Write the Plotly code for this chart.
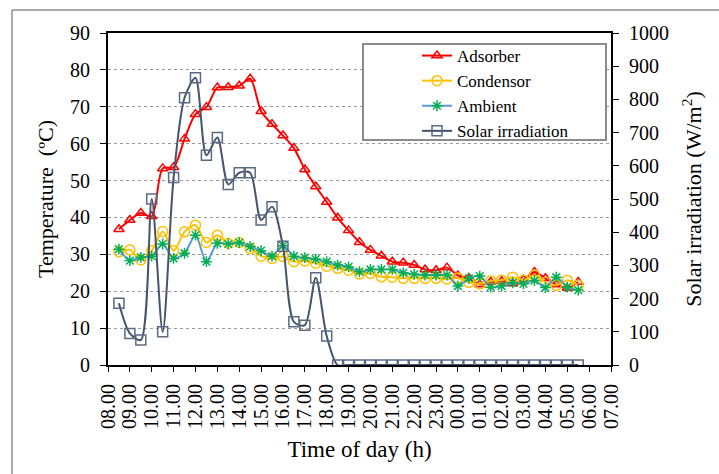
import plotly.graph_objects as go

hours = [8.5, 9.0, 9.5, 10.0, 10.5, 11.0, 11.5, 12.0, 12.5, 13.0, 13.5, 14.0, 14.5,
         15.0, 15.5, 16.0, 16.5, 17.0, 17.5, 18.0, 18.5, 19.0, 19.5, 20.0, 20.5,
         21.0, 21.5, 22.0, 22.5, 23.0, 23.5, 24.0, 24.5, 25.0, 25.5, 26.0, 26.5,
         27.0, 27.5, 28.0, 28.5, 29.0, 29.5]

adsorber = [36.8, 39.3, 41.2, 40.3, 53.3, 53.6, 61.3, 68.0, 69.9, 75.2, 75.3, 75.7, 77.6,
            68.8, 65.3, 62.2, 58.8, 53.0, 48.4, 44.2, 39.9, 36.5, 33.3, 31.2, 29.6,
            28.0, 27.7, 27.1, 25.9, 25.7, 26.4, 24.3, 23.6, 21.8, 22.5, 22.7, 22.1,
            23.1, 25.2, 23.5, 21.8, 20.9, 22.5]

condensor = [30.7, 31.2, 28.5, 31.0, 36.2, 31.0, 36.1, 37.9, 33.2, 35.2, 33.0, 33.2, 31.6,
             29.5, 28.9, 29.4, 28.0, 28.2, 27.6, 26.8, 26.2, 25.7, 24.7, 24.8, 23.9,
             23.8, 23.5, 23.5, 23.5, 23.5, 23.3, 23.6, 22.4, 22.0, 22.8, 23.0, 23.8,
             23.0, 24.4, 22.4, 21.6, 23.0, 21.6]

ambient = [31.4, 28.3, 29.2, 29.5, 32.8, 28.9, 30.3, 35.2, 28.0, 33.0, 32.8, 33.2, 32.1,
           31.0, 29.5, 32.3, 29.5, 29.1, 28.7, 28.0, 27.1, 26.6, 25.3, 25.9, 25.9,
           25.9, 25.0, 24.6, 24.4, 24.4, 24.4, 21.4, 23.5, 24.1, 21.1, 21.4, 22.3,
           22.0, 22.9, 21.0, 23.8, 21.1, 20.3]

solar = [186, 95, 75, 500, 100, 565, 805, 865, 632, 685, 544, 579, 579,
         437, 477, 358, 130, 120, 263, 87, 0, 0, 0, 0, 0,
         0, 0, 0, 0, 0, 0, 0, 0, 0, 0, 0, 0,
         0, 0, 0, 0, 0, 0]

tick_hours = list(range(8, 32))
tick_labels = ["08.00", "09.00", "10.00", "11.00", "12.00", "13.00", "14.00", "15.00",
               "16.00", "17.00", "18.00", "19.00", "20.00", "21.00", "22.00", "23.00",
               "00.00", "01.00", "02.00", "03.00", "04.00", "05.00", "06.00", "07.00"]

FONT = "'Liberation Serif', 'Times New Roman', 'DejaVu Serif', serif"

fig = go.Figure()
fig.add_trace(go.Scatter(
    x=hours, y=adsorber, name="Adsorber", mode="lines+markers",
    line=dict(color="#FF0000", width=2, shape="spline", smoothing=0.8),
    marker=dict(symbol="triangle-up-open", size=9, color="#FF0000", line=dict(width=1.5, color="#FF0000"))))
fig.add_trace(go.Scatter(
    x=hours, y=condensor, name="Condensor", mode="lines+markers",
    line=dict(color="#FFC000", width=2, shape="spline", smoothing=0.8),
    marker=dict(symbol="circle-open", size=10, color="#FFC000", line=dict(width=1.5, color="#FFC000"))))
fig.add_trace(go.Scatter(
    x=hours, y=ambient, name="Ambient", mode="lines+markers",
    line=dict(color="#5B9BD5", width=2, shape="spline", smoothing=0.8),
    marker=dict(symbol="asterisk-open", size=9, color="#00B050", line=dict(width=1.5, color="#00B050"))))
fig.add_trace(go.Scatter(
    x=hours, y=solar, name="Solar irradiation", mode="lines+markers", yaxis="y2",
    line=dict(color="#44546A", width=2, shape="spline", smoothing=0.8),
    marker=dict(symbol="square-open", size=10, color="#5A6A82", line=dict(width=1.5, color="#5A6A82"))))

L, R, T, B = 108, 108, 33, 109
W, H = 719, 474
pw, ph = W - L - R, H - T - B

def px(xpix):
    return (xpix - L) / pw

def py(ypix):
    return (H - B - ypix) / ph

fig.update_layout(
    width=W, height=H, autosize=False,
    margin=dict(l=L, r=R, t=T, b=B, autoexpand=False),
    paper_bgcolor="white", plot_bgcolor="white",
    font=dict(family=FONT, color="black", size=20),
    showlegend=True,
    legend=dict(x=px(417), y=py(38), xanchor="left", yanchor="top",
                bgcolor="rgba(0,0,0,0)", borderwidth=0,
                font=dict(family=FONT, size=17, color="black"),
                tracegroupgap=0),
    xaxis=dict(range=[8, 31], tickmode="array", tickvals=tick_hours, ticktext=tick_labels,
               tickangle=-90, ticks="outside", ticklen=5, tickwidth=1, tickcolor="black",
               showline=True, linecolor="black", linewidth=2, mirror=True,
               showgrid=False, zeroline=False, automargin=False,
               tickfont=dict(family=FONT, size=20), ticklabelstandoff=4,
               title=dict(text="Time of day (h)", font=dict(family=FONT, size=23), standoff=13)),
    yaxis=dict(range=[0, 90], dtick=10, ticks="outside", ticklen=6, tickwidth=1, tickcolor="black",
               showline=True, linecolor="black", linewidth=2, automargin=False,
               showgrid=True, gridcolor="#9A9A9A", griddash="dot", gridwidth=1, zeroline=False,
               tickfont=dict(family=FONT, size=20), ticklabelstandoff=6,
               title=dict(text="Temperature  (ºC)", font=dict(family=FONT, size=22), standoff=10)),
    yaxis2=dict(range=[0, 1000], dtick=100, overlaying="y", side="right",
                ticks="outside", ticklen=6, tickwidth=1, tickcolor="black",
                showline=True, linecolor="black", linewidth=2, automargin=False,
                showgrid=False, zeroline=False,
                tickfont=dict(family=FONT, size=20), ticklabelstandoff=6,
                title=dict(text="Solar irradiation (W/m<sup>2</sup>)", font=dict(family=FONT, size=22), standoff=18)),
    shapes=[
        dict(type="rect", xref="paper", yref="paper",
             x0=px(12), x1=px(760), y0=py(520), y1=py(10),
             line=dict(color="#595959", width=1), fillcolor="rgba(0,0,0,0)", layer="below"),
        dict(type="rect", xref="paper", yref="paper",
             x0=px(363), x1=px(606), y0=py(140), y1=py(44),
             line=dict(color="#8C8C8C", width=2), fillcolor="white", layer="above"),
    ],
)

fig.write_html("out.html", config={"displayModeBar": False},
               post_script="document.body.style.margin='0px';document.body.style.overflow='hidden';")
